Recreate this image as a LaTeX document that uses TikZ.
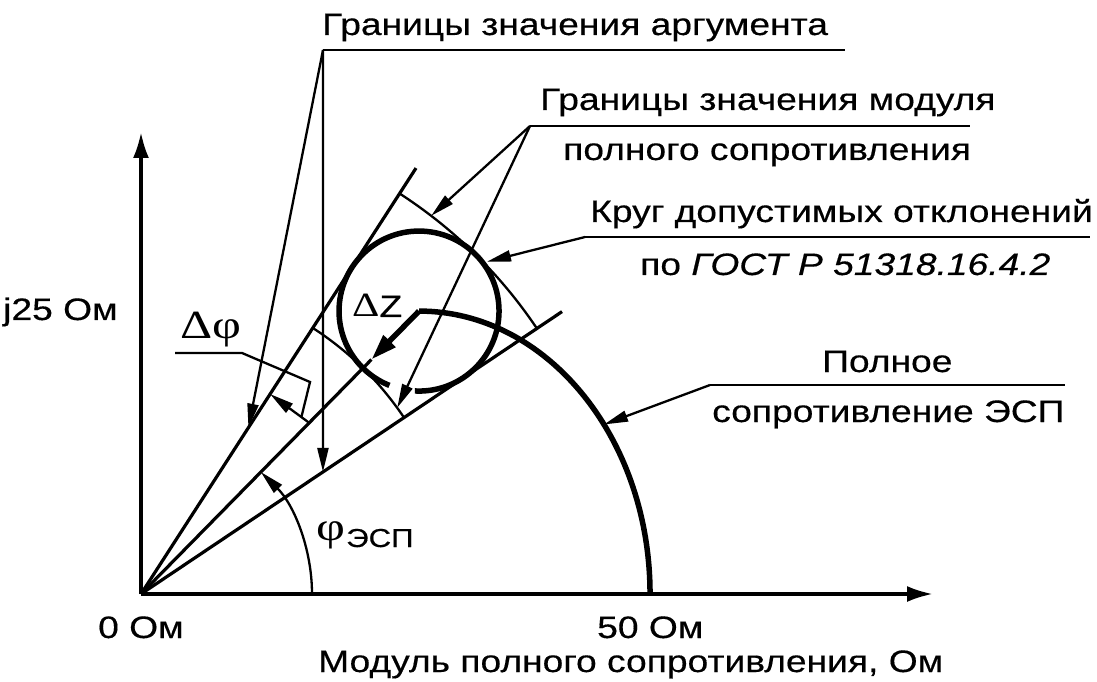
\documentclass[tikz,border=0pt]{standalone}
\usepackage{fontspec}
\setmainfont{Liberation Sans}[FakeStretch=1.2,FakeBold=0.4]
\newfontfamily\grk{Liberation Serif}[FakeStretch=1.25]
\usetikzlibrary{arrows.meta,calc}

\tikzset{
  lbl/.style={anchor=base west,inner sep=0pt,font=\fontsize{31}{36}\selectfont},
  grklbl/.style={anchor=base west,inner sep=0pt,font=\fontsize{40}{44}\grk},
  thinln/.style={line width=2.3pt},
  rayln/.style={line width=3.2pt},
  fatln/.style={line width=5.5pt},
  leader/.style={line width=2.3pt,-{Triangle[length=24pt,width=11pt]}},
  axis/.style={line width=3.5pt,-{Latex[length=26pt,width=16pt]}}
}

\begin{document}
\begin{tikzpicture}[x=1pt,y=1pt]
  \useasboundingbox (0,0) rectangle (1097,681);
  \coordinate (O) at (141,87);
  \coordinate (P) at ($(O)+(45.5:396.7)$);
  \coordinate (E) at (P |- O);
  % axes
  \draw[axis] (O) -- (141,549);
  \draw[axis] (O) -- (933,87);
  % rays of the argument bounds and of the ESP impedance
  \draw[rayln] (O) -- ($(O)+(57.15:507)$) coordinate (upEnd);
  \draw[rayln] (O) -- ($(O)+(33.85:507)$) coordinate (loEnd);
  \draw[rayln] (O) -- ($(O)+(45.5:328.7)$) coordinate (midEnd);
  % modulus bounds
  \draw[thinln] ($(O)+(57.15:476.7)$) arc[start angle=57.15,end angle=33.85,radius=476.7];
  \draw[thinln] ($(O)+(57.15:316.7)$) arc[start angle=57.15,end angle=33.85,radius=316.7];
  % circle and impedance curve
  \draw[fatln] ($(P)+(-93:80)$) arc[start angle=-93,end angle=248.3,radius=80];
  \draw[fatln] (P) arc[start angle=90,end angle=0,x radius=231,y radius=283];
  \draw[line width=5.5pt,-{Triangle[length=26pt,width=16pt]}] (P) -- (midEnd);
  % angle phi
  \draw[leader] ($(O)+(0:171)$) arc[start angle=0,end angle=45.5,radius=171];
  % delta phi
  \coordinate (dT) at ($(O)+(45.5:240)$);
  \coordinate (dH) at ($(O)+(57.15:238)$);
  \draw[leader] (dT) -- (dH);
  \coordinate (dphiL) at (175,328);
  \draw[thinln] (dphiL) -- (242,328) -- (310,299) -- ($(dT)!0.2!(dH)$);

  % labels with leaders
  \node[lbl] (argTxt) at (322,646) {Границы значения аргумента};
  \coordinate (argL) at (323,631);
  \draw[thinln] (argL) -- (845,631);
  \draw[leader] (argL) -- ($(O)+(57.15:198)$);
  \draw[leader] (argL) -- ($(O)+(33.85:219.1)$);

  \node[lbl] (modTxtA) at (540,571) {Границы значения модуля};
  \node[lbl] (modTxtB) at (563,521) {полного сопротивления};
  \coordinate (modL) at (530,555);
  \draw[thinln] (modL) -- (970,555);
  \draw[leader] (modL) -- ($(O)+(52.5:476.7)$);
  \draw[leader] (modL) -- ($(O)+(36:316.7)$);

  \node[lbl] (circTxtA) at (590,459) {Круг допустимых отклонений};
  \node[lbl] (circTxtB) at (640,406) {по \textit{ГОСТ Р 51318.16.4.2}};
  \coordinate (circL) at (585,444);
  \draw[thinln] (circL) -- (1090,444);
  \draw[leader] (circL) -- ($(P)+(36:84)$);

  \node[lbl] (zTxtA) at (822,309) {Полное};
  \node[lbl] (zTxtB) at (712,259) {сопротивление ЭСП};
  \coordinate (zL) at (710,296);
  \draw[thinln] (zL) -- (1065,296);
  \draw[leader] (zL) -- ($(E)+(36.8:231 and 283)$);

  % other texts
  \node[grklbl] (dphiTxt) at (180,343) {Δφ};
  \node[lbl] (dzTxt) at (352,364) {{\fontsize{34}{36}\grk Δ}Z};
  \node[grklbl] (phiTxt) at (316,141) {φ};
  \node[lbl,font=\fontsize{26}{30}\selectfont] (phiSub) at (346,134) {ЭСП};
  \node[lbl] (yTxt) at (3,361) {j25 Ом};
  \node[lbl] (x0Txt) at (98,43) {0 Ом};
  \node[lbl] (x50Txt) at (597,43) {50 Ом};
  \node[lbl] (xTxt) at (318,9) {Модуль полного сопротивления, Ом};
\end{tikzpicture}
\end{document}
